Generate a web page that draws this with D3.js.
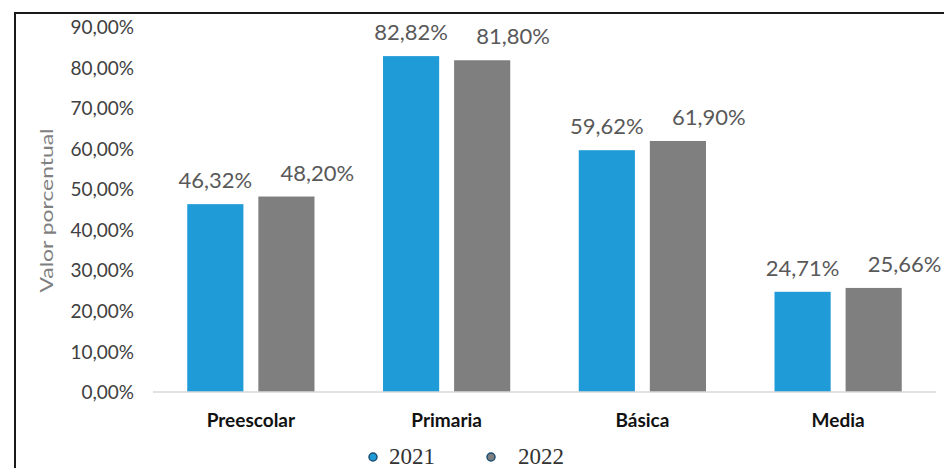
<!DOCTYPE html>
<html>
<head>
<meta charset="utf-8">
<script src="https://cdn.jsdelivr.net/npm/d3@7"></script>
<style>
  body { margin: 0; background: #fff; }
  svg { display: block; }
</style>
</head>
<body>
<svg id="chart" width="944" height="468"></svg>
<script>
// data
var categories = ["Preescolar", "Primaria", "Básica", "Media"];
var seriesNames = ["2021", "2022"];
var values2021 = [46.32, 82.82, 59.62, 24.71];
var values2022 = [48.20, 81.80, 61.90, 25.66];
var yTicks = [0, 10, 20, 30, 40, 50, 60, 70, 80, 90];
var colors = ["#1f9bd8", "#7f7f7f"];

var svg = d3.select("svg#chart"),
    width = +svg.attr("width"),
    height = +svg.attr("height");

// plot area (note: "top" is reserved on window, so use other names)
var plotLeft = 153, plotRight = 936, plotTop = 27, plotBottom = 392;
var font = "Lato, 'Open Sans', sans-serif";

var fmt = function(v) { return v.toFixed(2).replace(".", ",") + "%"; };

// frame lines (top and left only)
svg.append("path")
    .attr("d", "M15," + height + "V13H" + width)
    .attr("fill", "none")
    .attr("stroke", "#1a1a1a")
    .attr("stroke-width", 2);

var x0 = d3.scaleBand().domain(categories).range([plotLeft, plotRight]).padding(0);
var groupW = x0.bandwidth() * 0.65;
var x1 = d3.scaleBand().domain(seriesNames).range([0, groupW]).paddingInner(0.21);
var y = d3.scaleLinear().domain([0, 90]).range([plotBottom, plotTop]);

// y axis labels
var yAxis = svg.append("g")
    .attr("transform", "translate(" + (plotLeft - 19) + ",0)")
    .call(d3.axisLeft(y).tickValues(yTicks).tickSize(0).tickFormat(function(d) { return fmt(d); }));
yAxis.select(".domain").remove();
yAxis.selectAll("text")
    .attr("x", 0)
    .attr("dy", "0.35em")
    .style("font-family", font)
    .style("font-size", "19px")
    .attr("fill", "#404040");

// y title (stretched along its length like the original)
svg.append("text")
    .attr("transform", "translate(53," + ((plotTop + plotBottom) / 2 + 1) + ") rotate(-90)")
    .attr("text-anchor", "middle")
    .attr("textLength", 164)
    .attr("lengthAdjust", "spacingAndGlyphs")
    .style("font-family", font)
    .style("font-size", "17px")
    .attr("fill", "#7f7f7f")
    .text("Valor porcentual");

var rows = categories.map(function(c, i) {
  return { cat: c, vals: [values2021[i], values2022[i]] };
});

var groups = svg.append("g").selectAll("g")
    .data(rows)
  .enter().append("g")
    .attr("transform", function(d) {
      return "translate(" + (x0(d.cat) + (x0.bandwidth() - groupW) / 2) + ",0)";
    });

groups.selectAll("rect")
    .data(function(d) { return d.vals.map(function(v, j) { return { s: seriesNames[j], v: v, j: j }; }); })
  .enter().append("rect")
    .attr("x", function(d) { return x1(d.s); })
    .attr("width", x1.bandwidth())
    .attr("y", function(d) { return y(d.v); })
    .attr("height", function(d) { return plotBottom - y(d.v); })
    .attr("fill", function(d) { return colors[d.j]; });

// value labels (the 2022 ones sit a little to the right)
groups.selectAll("text.val")
    .data(function(d) { return d.vals.map(function(v, j) { return { s: seriesNames[j], v: v, j: j }; }); })
  .enter().append("text")
    .attr("class", "val")
    .attr("x", function(d) { return x1(d.s) + x1.bandwidth() / 2 + (d.j === 1 ? 31 : 0); })
    .attr("y", function(d) { return y(d.v) - 16; })
    .attr("text-anchor", "middle")
    .style("font-family", font)
    .style("font-size", "22px")
    .attr("fill", "#595959")
    .text(function(d) { return fmt(d.v); });

// baseline
svg.append("line")
    .attr("x1", plotLeft).attr("x2", plotRight)
    .attr("y1", plotBottom).attr("y2", plotBottom)
    .attr("stroke", "#d9d9d9")
    .attr("stroke-width", 1.5);

// category labels
var xAxis = svg.append("g")
    .attr("transform", "translate(0," + plotBottom + ")")
    .call(d3.axisBottom(x0).tickSize(0));
xAxis.select(".domain").remove();
xAxis.selectAll("text")
    .attr("y", 35)
    .attr("dy", 0)
    .style("font-family", font)
    .style("font-size", "19px")
    .style("font-weight", "bold")
    .attr("fill", "#111");

// legend
var legend = svg.append("g").selectAll("g")
    .data(seriesNames)
  .enter().append("g")
    .attr("transform", function(d, i) { return "translate(" + (373 + i * 118) + ",457)"; });

legend.append("circle")
    .attr("r", 4)
    .attr("fill", function(d, i) { return colors[i]; })
    .attr("stroke", "#1b4f72")
    .attr("stroke-width", 1.5);

legend.append("text")
    .attr("x", function(d, i) { return i === 0 ? 16 : 27; })
    .attr("y", 7)
    .style("font-family", "'Liberation Serif', serif")
    .style("font-size", "23px")
    .attr("fill", "#333")
    .text(function(d) { return d; });
</script>
</body>
</html>
